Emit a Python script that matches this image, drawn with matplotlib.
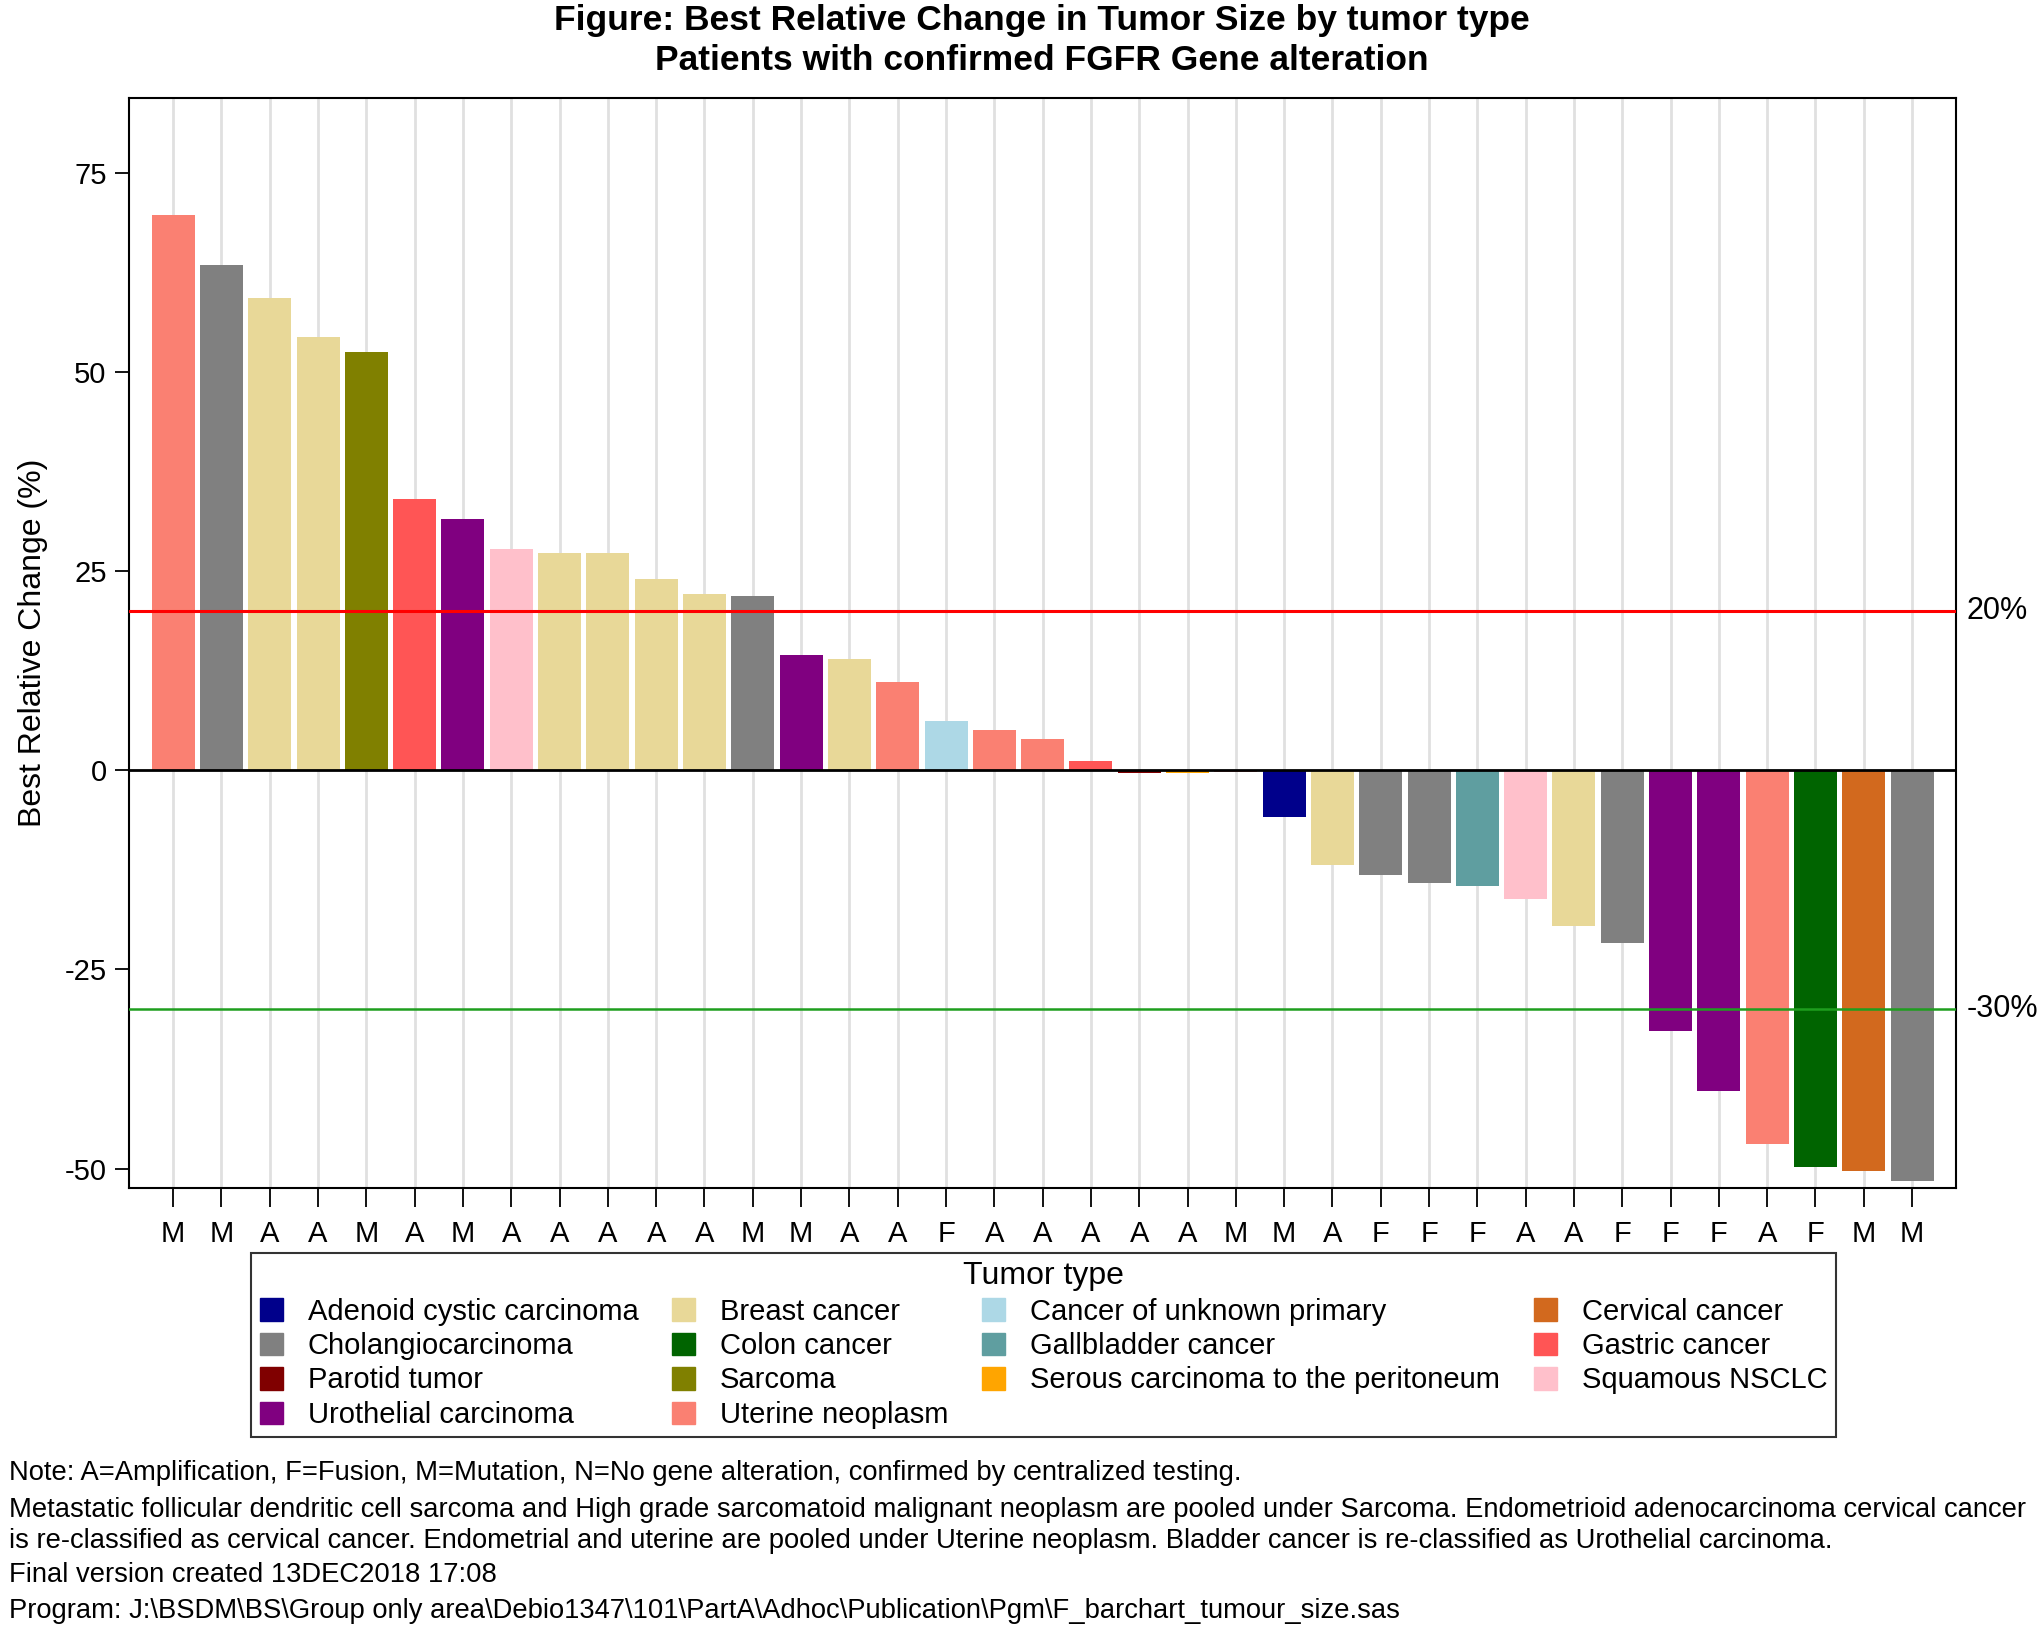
import matplotlib
matplotlib.use("Agg")
import matplotlib.pyplot as plt
import matplotlib.patches as mpatches
import matplotlib.transforms as mtransforms
import numpy as np

plt.rcParams['font.family'] = ['Liberation Sans', 'DejaVu Sans']
plt.rcParams['axes.unicode_minus'] = False

# alteration type per patient (x tick labels)
alteration = ["M", "M", "A", "A", "M", "A", "M", "A", "A", "A", "A", "A", "M",
              "M", "A", "A", "F", "A", "A", "A", "A", "A", "M", "M", "A", "F",
              "F", "F", "A", "A", "F", "F", "F", "A", "F", "M", "M"]

best_change = [69.7, 63.4, 59.3, 54.4, 52.5, 34.0, 31.5, 27.8, 27.3, 27.3,
               24.0, 22.1, 21.9, 14.4, 13.9, 11.1, 6.2, 5.1, 3.9, 1.1,
               -0.4, -0.3, -0.2, -5.9, -11.9, -13.2, -14.2, -14.5, -16.2,
               -19.6, -21.7, -32.7, -40.2, -46.9, -49.8, -50.3, -51.5]

tumor = ["Uterine neoplasm", "Cholangiocarcinoma", "Breast cancer", "Breast cancer",
         "Sarcoma", "Gastric cancer", "Urothelial carcinoma", "Squamous NSCLC",
         "Breast cancer", "Breast cancer", "Breast cancer", "Breast cancer",
         "Cholangiocarcinoma", "Urothelial carcinoma", "Breast cancer",
         "Uterine neoplasm", "Cancer of unknown primary", "Uterine neoplasm",
         "Uterine neoplasm", "Gastric cancer", "Parotid tumor",
         "Serous carcinoma to the peritoneum", "Uterine neoplasm",
         "Adenoid cystic carcinoma", "Breast cancer", "Cholangiocarcinoma",
         "Cholangiocarcinoma", "Gallbladder cancer", "Squamous NSCLC",
         "Breast cancer", "Cholangiocarcinoma", "Urothelial carcinoma",
         "Urothelial carcinoma", "Uterine neoplasm", "Colon cancer",
         "Cervical cancer", "Cholangiocarcinoma"]

tumor_colors = {
    "Adenoid cystic carcinoma": "#00008B",
    "Breast cancer": "#E8D898",
    "Cancer of unknown primary": "#ADD8E6",
    "Cervical cancer": "#D2691E",
    "Cholangiocarcinoma": "#808080",
    "Colon cancer": "#006400",
    "Gallbladder cancer": "#5F9EA0",
    "Gastric cancer": "#FF5555",
    "Parotid tumor": "#800000",
    "Sarcoma": "#808000",
    "Serous carcinoma to the peritoneum": "#FFA500",
    "Squamous NSCLC": "#FFC0CB",
    "Urothelial carcinoma": "#800080",
    "Uterine neoplasm": "#FA8072",
}

# legend order (column-major so it reads alphabetically by row)
legend_order = ["Adenoid cystic carcinoma", "Cholangiocarcinoma", "Parotid tumor",
                "Urothelial carcinoma", "Breast cancer", "Colon cancer", "Sarcoma",
                "Uterine neoplasm", "Cancer of unknown primary", "Gallbladder cancer",
                "Serous carcinoma to the peritoneum", "Cervical cancer",
                "Gastric cancer", "Squamous NSCLC"]

footnotes = [
    "Note: A=Amplification, F=Fusion, M=Mutation, N=No gene alteration, confirmed by centralized testing.",
    "Metastatic follicular dendritic cell sarcoma and High grade sarcomatoid malignant neoplasm are pooled under Sarcoma. Endometrioid adenocarcinoma cervical cancer",
    "is re-classified as cervical cancer. Endometrial and uterine are pooled under Uterine neoplasm. Bladder cancer is re-classified as Urothelial carcinoma.",
    "Final version created 13DEC2018 17:08",
    "Program: J:\\BSDM\\BS\\Group only area\\Debio1347\\101\\PartA\\Adhoc\\Publication\\Pgm\\F_barchart_tumour_size.sas",
]

fig = plt.figure(figsize=(20.4, 16.28), dpi=100)
ax = fig.add_axes([0.0631, 0.2704, 0.8955, 0.6696])

x = np.arange(len(best_change))
ax.bar(x, best_change, width=0.89, color=[tumor_colors[t] for t in tumor],
       zorder=2)

for xi in x:
    ax.axvline(xi, color="#E0E0E0", lw=2, zorder=0)
ax.axhline(0, color="black", lw=2, zorder=3)
ax.axhline(20, color="red", lw=2.2, zorder=3)
ax.axhline(-30, color="#1E9E1E", lw=1.8, zorder=3)

trans = mtransforms.blended_transform_factory(ax.transAxes, ax.transData)
ax.text(1.006, 20, "20%", transform=trans, ha="left", va="center", fontsize=22)
ax.text(1.006, -30, "-30%", transform=trans, ha="left", va="center", fontsize=22)

ax.set_xlim(-0.92, 36.9)
ax.set_ylim(-52.4, 84.4)
ax.set_xticks(x, labels=alteration)
ax.set_yticks([-50, -25, 0, 25, 50, 75])
ax.tick_params(axis="x", length=14, width=1.3, pad=9, labelsize=21)
ax.tick_params(axis="y", length=10, width=1.3, pad=6, labelsize=21)
for s in ax.spines.values():
    s.set_linewidth(1.5)

ax.set_ylabel("Best Relative Change (%)", fontsize=23, labelpad=12)
ax.set_title("Figure: Best Relative Change in Tumor Size by tumor type\n"
             "Patients with confirmed FGFR Gene alteration",
             fontsize=25.5, fontweight="bold", linespacing=1.27, pad=20)

handles = [mpatches.Patch(color=tumor_colors[t], label=t) for t in legend_order]
leg = fig.legend(handles=handles, ncol=4, loc="upper center",
                 bbox_to_anchor=(0.5115, 0.2303), borderaxespad=0,
                 title="Tumor type",
                 fontsize=21, title_fontsize=23, frameon=True, fancybox=False,
                 edgecolor="black", handlelength=0.8, handleheight=0.8,
                 handletextpad=0.85, labelspacing=0.22, columnspacing=1.15,
                 borderpad=0.28)
leg.get_frame().set_linewidth(1.5)

ys = [0.0955, 0.0725, 0.0533, 0.0324, 0.0103]
for txt, yy in zip(footnotes, ys):
    fig.text(0.0044, yy, txt, fontsize=19.7, ha="left", va="center")

fig.savefig("out.png", dpi=100)
